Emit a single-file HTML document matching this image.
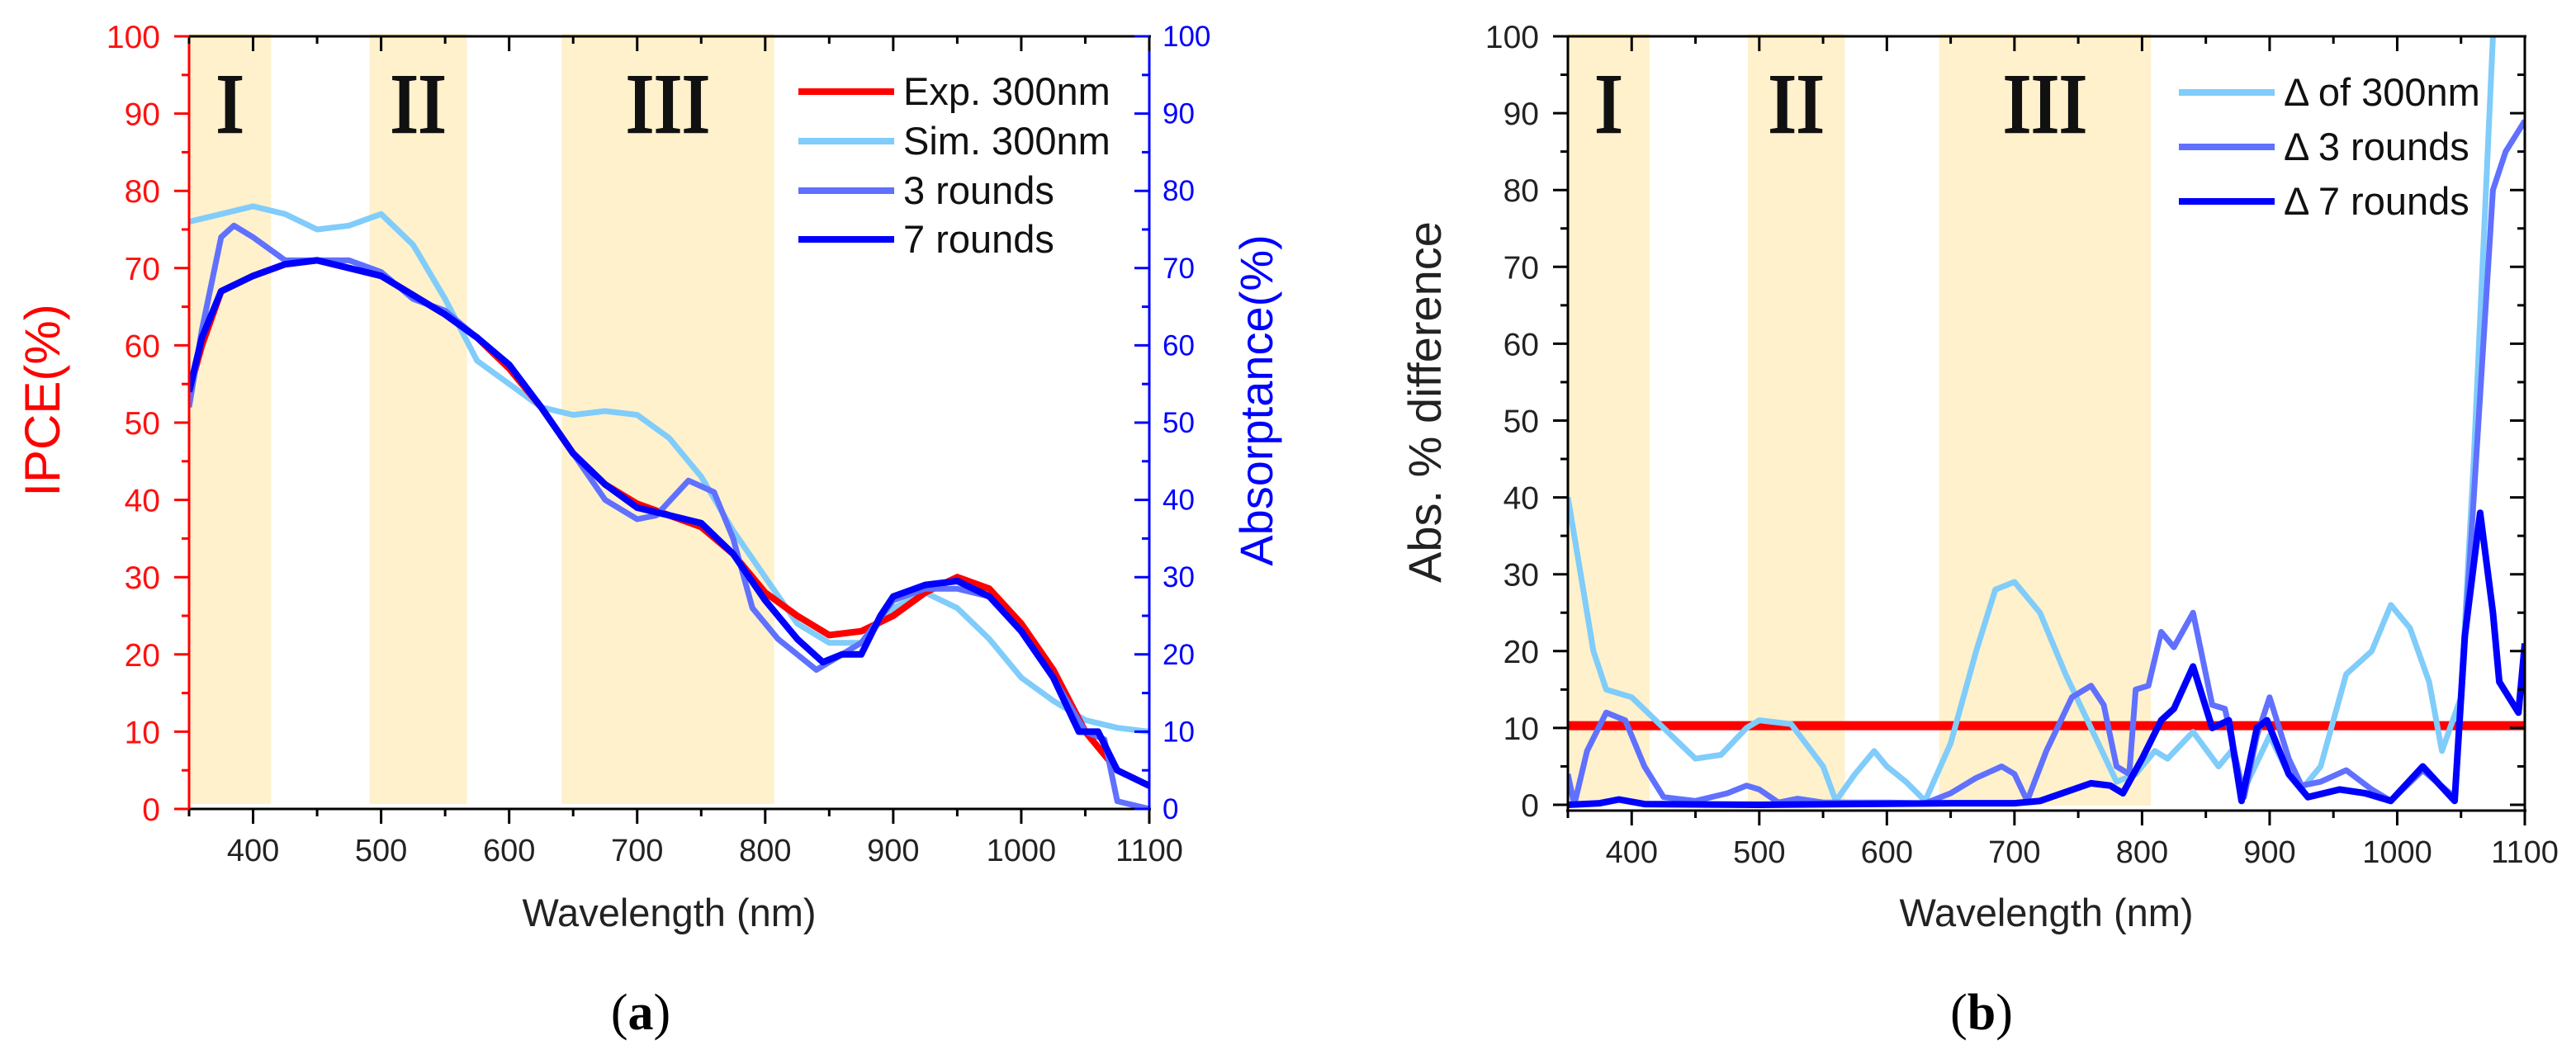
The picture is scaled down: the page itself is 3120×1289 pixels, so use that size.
<!DOCTYPE html>
<html><head><meta charset="utf-8"><title>IPCE and absolute difference charts</title>
<style>
html,body{margin:0;padding:0;background:#fff;}
svg{display:block;font-family:"Liberation Sans",Arial,sans-serif;}
</style></head>
<body>
<svg id="fig" width="3120" height="1289" viewBox="0 0 3120 1289" xmlns="http://www.w3.org/2000/svg"></svg>
<script>
// ---------- DATA (chart a) ----------
const bandsNm = [[350,414],[491,567],[641,807]];
const bandLabels = ["I","II","III"];
const xTicks = [400,500,600,700,800,900,1000,1100];
const yTicks = [0,10,20,30,40,50,60,70,80,90,100];

const expX = [350,360,375,400,425,450,475,500,525,550,575,600,625,650,675,700,725,750,775,800,825,850,875,900,925,950,975,1000,1025,1050,1075,1100];
const expY = [54,60,67,69,70.5,71,70,69,66.5,64,61,57,52,46,42,39.5,38,36.5,33,28,25,22.5,23,25,28,30,28.5,24,18,10,5,3];

const simX = [350,375,400,425,450,475,500,525,550,575,600,625,650,675,700,725,750,775,800,825,850,875,900,925,950,975,1000,1025,1050,1075,1100];
const simY = [76,77,78,77,75,75.5,77,73,66,58,55,52,51,51.5,51,48,43,36,30,24,21.5,21.5,26,28,26,22,17,14,11.5,10.5,10];

const r3X = [350,360,375,385,400,425,450,475,500,525,550,575,600,625,650,675,700,715,740,760,775,790,810,825,840,860,875,900,925,950,975,1000,1025,1050,1065,1075,1100];
const r3Y = [52,62,74,75.5,74,71,71,71,69.5,66,64.5,61,57.5,52,46,40,37.5,38,42.5,41,35,26,22,20,18,20,21.5,27,28.5,28.5,27.5,23,17,10,9,1,0];

const r7X = [350,360,375,400,425,450,475,500,525,550,575,600,625,650,675,700,725,750,775,800,825,845,860,875,890,900,925,950,975,1000,1025,1045,1060,1075,1100];
const r7Y = [54,61,67,69,70.5,71,70,69,66.5,64,61,57.5,52,46,42,39,38,37,33,27,22,19,20,20,25,27.5,29,29.5,27.5,23,17,10,10,5,3];

// ---------- DATA (chart b) ----------
const d300X = [350,360,370,380,400,425,450,470,490,500,525,550,560,575,590,600,615,630,650,670,685,700,720,740,760,780,795,810,820,840,860,870,880,900,915,925,940,960,980,995,1010,1025,1035,1050,1060,1075,1080];
const d300Y = [40,30,20,15,14,10,6,6.5,10,11,10.5,5,0.5,4,7,5,3,0.5,8,20,28,29,25,17,10,3,4,7,6,9.5,5,7,2,9,4,2,5,17,20,26,23,16,7,14,45,100,110];

const d3X = [350,355,365,380,395,410,425,450,475,490,500,515,530,550,600,630,650,670,690,700,710,725,745,760,770,780,790,795,805,815,825,840,855,865,880,890,900,915,925,940,960,980,995,1020,1045,1060,1075,1085,1100];
const d3Y = [4,0,7,12,11,5,1,0.5,1.5,2.5,2,0.3,0.8,0.3,0.3,0.2,1.5,3.5,5,4,0.5,7,14,15.5,13,5,4,15,15.5,22.5,20.5,25,13,12.5,1,9,14,6,2.5,3,4.5,2,0.5,4.5,1,40,80,85,89];

const d7X = [350,375,390,410,500,650,700,720,760,775,785,800,815,825,840,855,868,878,890,898,915,930,955,975,995,1020,1045,1053,1065,1075,1080,1095,1100];
const d7Y = [0,0.2,0.7,0.1,0,0.2,0.2,0.5,2.8,2.5,1.5,6,11,12.5,18,10,11,0.5,10,11,4,1,2,1.5,0.5,5,0.5,22,38,25,16,12,21];

const thresholdX = [350,1100];
const thresholdY = [10.3,10.3];

// ---------- helpers ----------
const NS = "http://www.w3.org/2000/svg";
const svg = document.getElementById("fig");
function mk(tag, attrs, parent, text){
  const e = document.createElementNS(NS, tag);
  for (const k in attrs) e.setAttribute(k, attrs[k]);
  if (text !== undefined) e.textContent = text;
  (parent || svg).appendChild(e);
  return e;
}
function linear(d0,d1,r0,r1){ return v => r0 + (v-d0)/(d1-d0)*(r1-r0); }

function lineFrom(g, xs, ys, sx, sy, color, w, name){
  let d = "";
  for (let i=0;i<xs.length;i++){ d += (i?"L":"M") + sx(xs[i]).toFixed(1) + "," + sy(ys[i]).toFixed(1); }
  const p = mk("path", {d:d, fill:"none", stroke:color, "stroke-width":w, "stroke-linejoin":"round", "stroke-linecap":"butt"}, g);
  
  
  return p;
}

function buildChart(cfg){
  const g = mk("g", {});
  
  
  const sx = linear(350,1100,cfg.L,cfg.R);
  const sy = linear(0,100,cfg.y0,cfg.y100);
  const clipId = cfg.name + "-clip";
  const defs = mk("defs", {}, g);
  const cp = mk("clipPath", {id:clipId}, defs);
  mk("rect", {x:cfg.L, y:cfg.T, width:cfg.R-cfg.L, height:cfg.B-cfg.T}, cp);

  bandsNm.forEach((b,i)=>{
    const r = mk("rect", {x:sx(b[0]), y:cfg.T-3, width:sx(b[1])-sx(b[0]), height:cfg.B-cfg.T-3, fill:"#fff1cc"}, g);
    
    
    const t = mk("text", {x:(sx(b[0])+sx(b[1]))/2, y:cfg.T+116, "text-anchor":"middle", "font-family":"'Liberation Serif',serif", "font-size":102, fill:"#111", stroke:"#111", "stroke-width":2.5}, g, bandLabels[i]);
    
    
  });

  const sg = mk("g", {"clip-path":"url(#"+clipId+")"}, g);
  
  
  cfg.series.forEach(s => lineFrom(sg, s.x, s.y, sx, sy, s.color, s.w, s.name));

  const ax = mk("g", {}, g);
  
  
  mk("line", {x1:cfg.L-2, y1:cfg.T, x2:cfg.R+2, y2:cfg.T, stroke:"#000", "stroke-width":3}, ax);
  mk("line", {x1:cfg.L-2, y1:cfg.B, x2:cfg.R+2, y2:cfg.B, stroke:"#000", "stroke-width":3}, ax);
  mk("line", {x1:cfg.L, y1:cfg.T, x2:cfg.L, y2:cfg.B, stroke:cfg.leftColor, "stroke-width":3}, ax);
  mk("line", {x1:cfg.R, y1:cfg.T, x2:cfg.R, y2:cfg.B, stroke:cfg.rightColor, "stroke-width":3}, ax);

  for (let v=350; v<=1100; v+=50){
    const major = v%100===0;
    const x = sx(v);
    mk("line", {x1:x, y1:cfg.B, x2:x, y2:cfg.B+(major?18:9), stroke:"#000", "stroke-width":3}, ax);
    mk("line", {x1:x, y1:cfg.T, x2:x, y2:cfg.T+(major?18:9), stroke:"#000", "stroke-width":3}, ax);
  }
  xTicks.forEach(v=>{
    const t = mk("text", {x:sx(v), y:cfg.B+63, "text-anchor":"middle", "font-size":38, fill:"#222"}, ax, String(v));
    
    
  });
  for (let v=0; v<=100; v+=5){
    const major = v%10===0, y = sy(v);
    mk("line", {x1:cfg.L, y1:y, x2:cfg.L-(major?18:9), y2:y, stroke:cfg.leftColor, "stroke-width":3}, ax);
    mk("line", {x1:cfg.R, y1:y, x2:cfg.R-(major?18:9), y2:y, stroke:cfg.rightColor, "stroke-width":3}, ax);
  }
  yTicks.forEach(v=>{
    const t = mk("text", {x:cfg.L-35, y:sy(v)+14, "text-anchor":"end", "font-size":39, fill:cfg.leftLabelColor}, ax, String(v));
    
    
    if (cfg.rightLabels){
      const t2 = mk("text", {x:cfg.R+16, y:sy(v)+12, "font-size":35, fill:"#0000ff"}, ax, String(v));
      
      
    }
  });

  const xt = mk("text", {x:(cfg.L+cfg.R)/2, y:1122, "text-anchor":"middle", "font-size":47, fill:"#222"}, g, "Wavelength (nm)");
  
  

  cfg.legend.forEach((s,i)=>{
    const y = cfg.legY[i];
    const lg = mk("g", {}, g);
    
    
    mk("line", {x1:cfg.legX, y1:y, x2:cfg.legX+116, y2:y, stroke:s.color, "stroke-width":8}, lg);
    mk("text", {x:cfg.legX+127, y:y+16, "font-size":47, fill:"#111"}, lg, s.label);
  });
  return g;
}

buildChart({
  name:"chart-a", L:229, R:1392, T:44, B:980, y0:980, y100:44,
  leftColor:"#ff0000", rightColor:"#0000ff", leftLabelColor:"#ff1010", rightLabels:true,
  legX:967, legY:[111,171,231,290],
  series:[
    {x:simX, y:simY, color:"#80ccfa", w:7, name:"sim-300nm-line"},
    {x:expX, y:expY, color:"#ff0000", w:8, name:"exp-300nm-line"},
    {x:r3X, y:r3Y, color:"#6070ff", w:7, name:"3-rounds-line"},
    {x:r7X, y:r7Y, color:"#0000ff", w:8, name:"7-rounds-line"}
  ],
  legend:[
    {label:"Exp. 300nm", color:"#ff0000"},
    {label:"Sim. 300nm", color:"#80ccfa"},
    {label:"3 rounds", color:"#6070ff"},
    {label:"7 rounds", color:"#0000ff"}
  ]
});

buildChart({
  name:"chart-b", L:1899, R:3058, T:44, B:982, y0:975, y100:44,
  leftColor:"#000", rightColor:"#000", leftLabelColor:"#222", rightLabels:false,
  legX:2639, legY:[112,178,244],
  series:[
    {x:thresholdX, y:thresholdY, color:"#ff0000", w:11, name:"threshold-10-line"},
    {x:d300X, y:d300Y, color:"#80ccfa", w:7, name:"delta-300nm-line"},
    {x:d3X, y:d3Y, color:"#6070ff", w:7, name:"delta-3-rounds-line"},
    {x:d7X, y:d7Y, color:"#0000ff", w:8, name:"delta-7-rounds-line"}
  ],
  legend:[
    {label:"Δ of 300nm", color:"#80ccfa"},
    {label:"Δ 3 rounds", color:"#6070ff"},
    {label:"Δ 7 rounds", color:"#0000ff"}
  ]
});

const tA = mk("text", {transform:"translate(72,485) rotate(-90)", "text-anchor":"middle", "font-size":60, fill:"#ff0000"}, svg, "IPCE(%)");


const tB = mk("text", {transform:"translate(1541,485) rotate(-90)", "text-anchor":"middle", "font-size":56, fill:"#0000ff"}, svg, "Absorptance(%)");


const tC = mk("text", {transform:"translate(1745,487) rotate(-90)", "text-anchor":"middle", "font-size":56, fill:"#222", "xml:space":"preserve"}, svg, "Abs.  % difference");


const cA = mk("text", {x:776, y:1247, "text-anchor":"middle", "font-family":"'Liberation Serif',serif", "font-size":62, fill:"#000"}, svg);


mk("tspan", {}, cA, "(");
mk("tspan", {"font-weight":"bold"}, cA, "a");
mk("tspan", {}, cA, ")");
const cB = mk("text", {x:2400, y:1247, "text-anchor":"middle", "font-family":"'Liberation Serif',serif", "font-size":62, fill:"#000"}, svg);


mk("tspan", {}, cB, "(");
mk("tspan", {"font-weight":"bold"}, cB, "b");
mk("tspan", {}, cB, ")");
</script>
</body></html>
